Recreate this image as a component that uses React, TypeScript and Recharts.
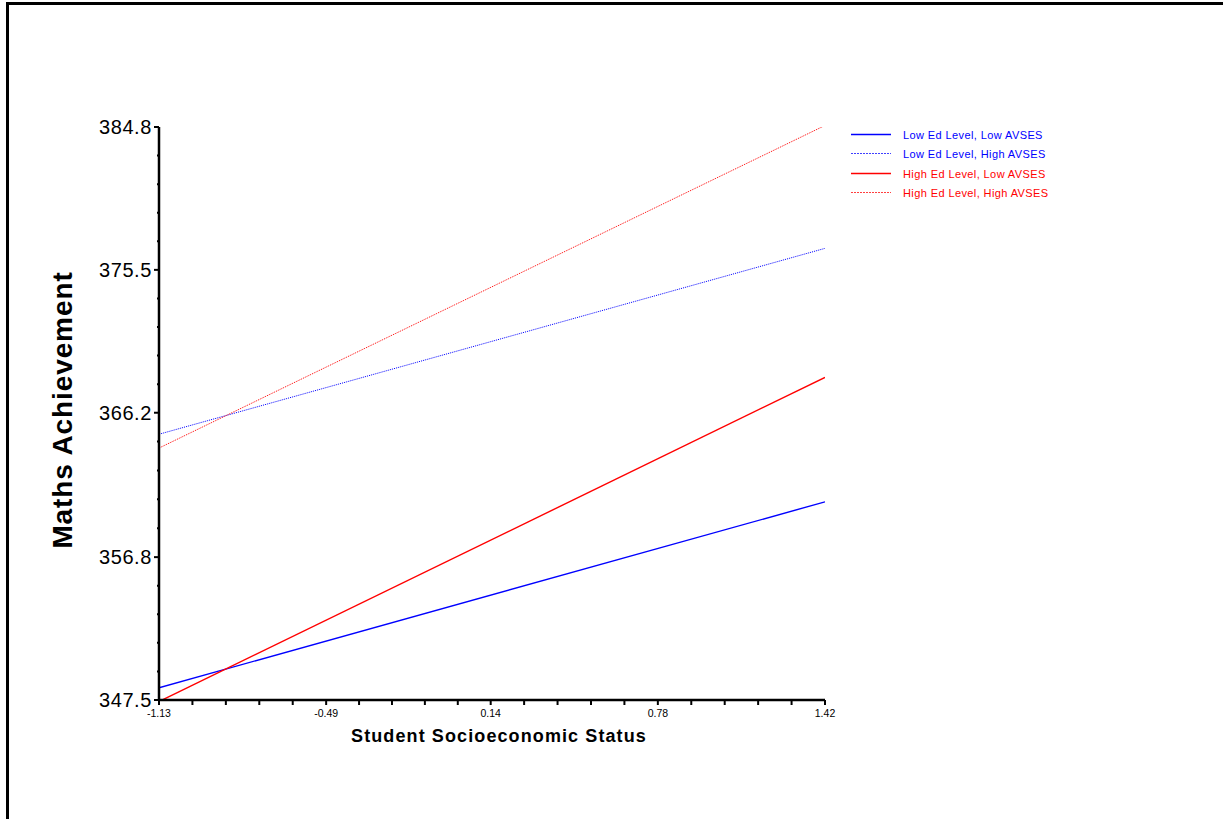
import React from 'react'
import { LineChart, Line, XAxis, YAxis } from 'recharts'

const sesPoints = [-1.13, 1.42]
const lowEdLowAvses = [348.3, 360.4]
const lowEdHighAvses = [364.8, 376.9]
const highEdLowAvses = [347.4, 368.5]
const highEdHighAvses = [363.9, 384.9]

const xMajorTicks = [-1.13, -0.49, 0.14, 0.78, 1.42]
const yMajorTicks = [347.5, 356.8, 366.2, 375.5, 384.8]

const seriesNames = [
  'Low Ed Level, Low AVSES',
  'Low Ed Level, High AVSES',
  'High Ed Level, Low AVSES',
  'High Ed Level, High AVSES'
]
const seriesColors = ['#0000ff', '#0000ff', '#ff0000', '#ff0000']
const seriesDashed = [false, true, false, true]

const data = sesPoints.map((x, i) => ({
  x,
  s0: lowEdLowAvses[i],
  s1: lowEdHighAvses[i],
  s2: highEdLowAvses[i],
  s3: highEdHighAvses[i]
}))

// 5 sub-intervals between each labelled tick
const withMinor = (majors: number[]) => {
  const out: number[] = []
  for (let i = 0; i < majors.length - 1; i++) {
    const step = (majors[i + 1] - majors[i]) / 5
    for (let k = 0; k < 5; k++) out.push(+(majors[i] + step * k).toFixed(4))
  }
  out.push(majors[majors.length - 1])
  return out
}
const xTicks = withMinor(xMajorTicks)
const yTicks = withMinor(yMajorTicks)

const font = 'Arial, "Liberation Sans", sans-serif'

const XTick = (props: any) => {
  const { x, y, index } = props
  const major = index % 5 === 0
  return (
    <g>
      <line x1={x} x2={x} y1={y} y2={y + 5} stroke="#000" strokeWidth={2} />
      {major && (
        <text x={x} y={y + 17} textAnchor="middle" fontSize={10.5} fontFamily={font} fill="#000">
          {xMajorTicks[index / 5].toFixed(2)}
        </text>
      )}
    </g>
  )
}

const YTick = (props: any) => {
  const { x, y, index } = props
  const major = index % 5 === 0
  return (
    <g>
      <line x1={x - (major ? 5 : 2)} x2={x} y1={y} y2={y} stroke="#000" strokeWidth={2} />
      {major && (
        <text x={x - 7} y={y + 7} textAnchor="end" fontSize={20} letterSpacing={0.6} fontFamily={font} fill="#000">
          {yMajorTicks[index / 5].toFixed(1)}
        </text>
      )}
    </g>
  )
}

export default function App() {
  return (
    <div style={{ position: 'fixed', left: 0, top: 0, width: 1223, height: 819, background: '#fff', fontFamily: font }}>
      <div
        style={{
          position: 'absolute',
          left: 6,
          top: 2,
          right: -10,
          bottom: -10,
          borderLeft: '3px solid #000',
          borderTop: '3px solid #000'
        }}
      />
      <LineChart
        width={1223}
        height={819}
        data={data}
        margin={{ top: 127, right: 398, bottom: 0, left: 0 }}
        style={{ position: 'absolute', left: 0, top: 0 }}
      >
        <XAxis
          dataKey="x"
          type="number"
          domain={[-1.13, 1.42]}
          ticks={xTicks}
          interval={0}
          height={119}
          tickSize={0}
          tickMargin={0}
          tickLine={false}
          axisLine={{ stroke: '#000', strokeWidth: 2.5 }}
          tick={<XTick />}
          allowDataOverflow
        />
        <YAxis
          type="number"
          domain={[347.5, 384.8]}
          ticks={yTicks}
          interval={0}
          width={159}
          tickSize={0}
          tickMargin={0}
          tickLine={false}
          axisLine={{ stroke: '#000', strokeWidth: 2.5 }}
          tick={<YTick />}
          allowDataOverflow
        />
        {seriesNames.map((name, i) => (
          <Line
            key={name}
            name={name}
            dataKey={'s' + i}
            type="linear"
            stroke={seriesColors[i]}
            strokeWidth={seriesDashed[i] ? 1 : 1.4}
            strokeDasharray={seriesDashed[i] ? '1 1' : undefined}
            dot={false}
            isAnimationActive={false}
          />
        ))}
      </LineChart>
      <div
        style={{
          position: 'absolute',
          left: 63,
          top: 410,
          transform: 'translate(-50%, -50%) rotate(-90deg)',
          fontSize: 28,
          letterSpacing: 0.9,
          fontWeight: 'bold',
          whiteSpace: 'nowrap',
          color: '#000'
        }}
      >
        Maths Achievement
      </div>
      <div
        style={{
          position: 'absolute',
          left: 499,
          top: 736,
          transform: 'translate(-50%, -50%)',
          fontSize: 18,
          letterSpacing: 1.1,
          fontWeight: 'bold',
          whiteSpace: 'nowrap',
          color: '#000'
        }}
      >
        Student Socioeconomic Status
      </div>
      <svg width={230} height={80} style={{ position: 'absolute', left: 851, top: 124 }}>
        {seriesNames.map((name, i) => {
          const cy = Math.round(10 + i * 19.3) + 0.5
          return (
            <g key={name}>
              <line
                x1={0}
                x2={40}
                y1={cy}
                y2={cy}
                stroke={seriesColors[i]}
                strokeOpacity={seriesDashed[i] ? 0.75 : 1}
                strokeWidth={seriesDashed[i] ? 1 : 1.4}
                strokeDasharray={seriesDashed[i] ? '2 1' : undefined}
              />
              <text
                x={52}
                y={cy + 4}
                fontSize={11}
                letterSpacing={0.4}
                fontFamily={font}
                fill={seriesColors[i]}
              >
                {name}
              </text>
            </g>
          )
        })}
      </svg>
    </div>
  )
}
